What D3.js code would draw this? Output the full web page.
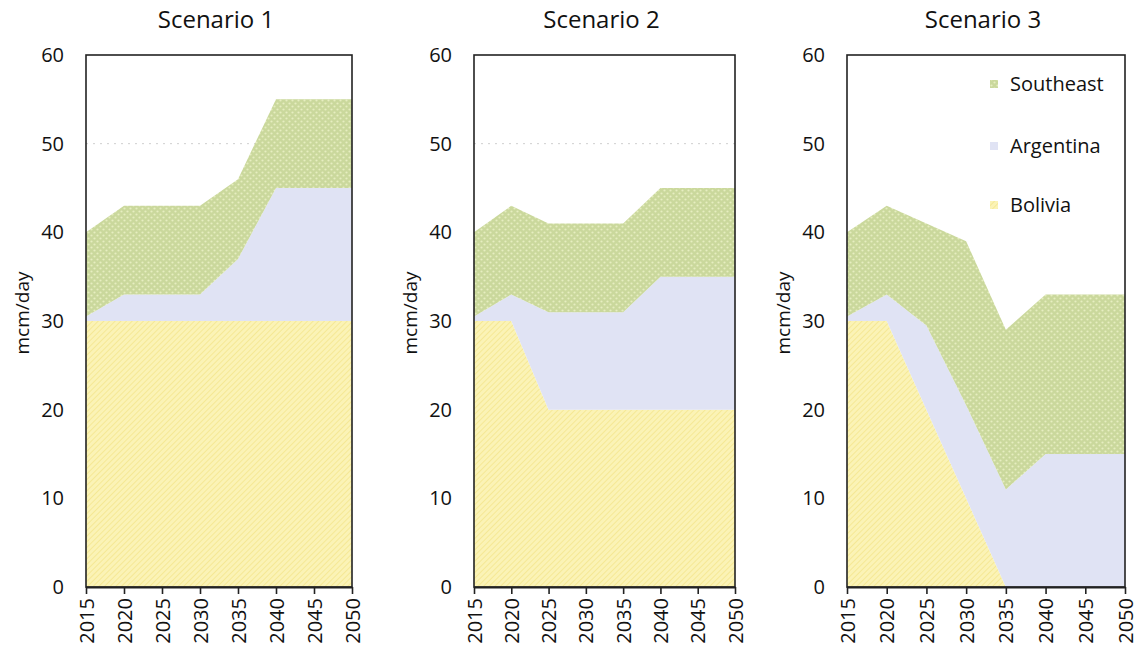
<!DOCTYPE html>
<html>
<head>
<meta charset="utf-8">
<script src="https://cdn.jsdelivr.net/npm/d3@7"></script>
<style>
  body { margin: 0; background: #fff; }
  text { font-family: "Open Sans", sans-serif; fill: #111; }
</style>
</head>
<body>
<div id="chart"></div>
<script>
// data (mcm/day)
var years = [2015, 2020, 2025, 2030, 2035, 2040, 2045, 2050];
var seriesNames = ["Bolivia", "Argentina", "Southeast"];
var scenarioTitles = ["Scenario 1", "Scenario 2", "Scenario 3"];
var yTicks = [0, 10, 20, 30, 40, 50, 60];

var bolivia1   = [30, 30, 30, 30, 30, 30, 30, 30];
var argentina1 = [0.5, 3, 3, 3, 7, 15, 15, 15];
var southeast1 = [9.5, 10, 10, 10, 9, 10, 10, 10];

var bolivia2   = [30, 30, 20, 20, 20, 20, 20, 20];
var argentina2 = [0.5, 3, 11, 11, 11, 15, 15, 15];
var southeast2 = [9.5, 10, 10, 10, 10, 10, 10, 10];

var bolivia3   = [30, 30, 20, 10, 0, 0, 0, 0];
var argentina3 = [0.5, 3, 9.5, 10.5, 11, 15, 15, 15];
var southeast3 = [9.5, 10, 11.5, 18.5, 18, 18, 18, 18];

var scenarios = [
  [bolivia1, argentina1, southeast1],
  [bolivia2, argentina2, southeast2],
  [bolivia3, argentina3, southeast3]
];

// layout
var width = 1137, height = 657;
var plotLefts = [86, 474, 847],
    plotWidths = [266, 261, 278],
    plotTop = 55,
    plotBottom = 587;

var svg = d3.select("#chart")
  .append("svg")
    .attr("width", width)
    .attr("height", height);

// fill patterns
var defs = svg.append("defs");

var pYellow = defs.append("pattern")
    .attr("id", "fill-Bolivia")
    .attr("patternUnits", "userSpaceOnUse")
    .attr("width", 4).attr("height", 4)
    .attr("patternTransform", "rotate(45)");
pYellow.append("rect").attr("width", 4).attr("height", 4).attr("fill", "#fbf3b6");
pYellow.append("line").attr("x1", 0).attr("y1", 0).attr("x2", 0).attr("y2", 4)
    .attr("stroke", "#f2e17e").attr("stroke-width", 1.2);

var pBlue = defs.append("pattern")
    .attr("id", "fill-Argentina")
    .attr("patternUnits", "userSpaceOnUse")
    .attr("width", 4).attr("height", 4);
pBlue.append("rect").attr("width", 4).attr("height", 4).attr("fill", "#e0e3f4");

var pGreen = defs.append("pattern")
    .attr("id", "fill-Southeast")
    .attr("patternUnits", "userSpaceOnUse")
    .attr("width", 6).attr("height", 6);
pGreen.append("rect").attr("width", 6).attr("height", 6).attr("fill", "#cad89c");
pGreen.append("circle").attr("cx", 1.5).attr("cy", 1.5).attr("r", 1.1).attr("fill", "#e6eec0");
pGreen.append("circle").attr("cx", 4.5).attr("cy", 4.5).attr("r", 1.1).attr("fill", "#e6eec0");

scenarios.forEach(function(series, i) {
  var left = plotLefts[i], w = plotWidths[i];

  var x = d3.scaleLinear().domain([2015, 2050]).range([left, left + w]);
  var y = d3.scaleLinear().domain([0, 60]).range([plotBottom, plotTop]);

  var rows = years.map(function(yr, j) {
    var r = {year: yr};
    seriesNames.forEach(function(n, k) { r[n] = series[k][j]; });
    return r;
  });
  var stacked = d3.stack().keys(seriesNames)(rows);

  var g = svg.append("g");

  // faint gridline at 50
  g.append("line")
    .attr("x1", left).attr("x2", left + w)
    .attr("y1", y(50)).attr("y2", y(50))
    .attr("stroke", i === 2 ? "none" : "#cfcfcf")
    .attr("stroke-dasharray", "2,5");

  var area = d3.area()
    .x(function(d) { return x(d.data.year); })
    .y0(function(d) { return y(d[0]); })
    .y1(function(d) { return y(d[1]); });

  g.selectAll("path.layer")
    .data(stacked)
    .enter().append("path")
      .attr("d", area)
      .attr("fill", function(d) { return "url(#fill-" + d.key + ")"; });

  // frame
  g.append("rect")
    .attr("x", left).attr("y", plotTop)
    .attr("width", w).attr("height", plotBottom - plotTop)
    .attr("fill", "none")
    .attr("stroke", "#222")
    .attr("stroke-width", 1.6);

  // x axis
  var xAxis = g.append("g")
    .attr("transform", "translate(0," + plotBottom + ")")
    .call(d3.axisBottom(x).tickValues(years).tickFormat(d3.format("d")).tickSize(7).tickSizeOuter(0));
  xAxis.select(".domain").attr("stroke", "#222").attr("stroke-width", 2);
  xAxis.selectAll(".tick line").attr("stroke", "#222").attr("stroke-width", 1.6);
  xAxis.selectAll("text")
    .attr("transform", "rotate(-90)")
    .attr("x", -11).attr("y", 0).attr("dy", "0.35em")
    .style("text-anchor", "end")
    .style("font-size", "20px")
    .style("font-weight", 500)
    .style("font-family", "Open Sans")
    .style("fill", "#111");

  // y axis (labels only)
  var yAxis = g.append("g")
    .attr("transform", "translate(" + left + ",0)")
    .call(d3.axisLeft(y).tickValues(yTicks).tickSize(0).tickPadding(22));
  yAxis.select(".domain").remove();
  yAxis.selectAll("text")
    .style("font-size", "20px")
    .style("font-weight", 500)
    .style("font-family", "Open Sans")
    .style("fill", "#111");

  // y title
  g.append("text")
    .attr("transform", "translate(" + (left - 64) + "," + 313 + ")rotate(-90)")
    .attr("text-anchor", "middle")
    .attr("dy", "0.35em")
    .style("font-size", "19px")
    .text("mcm/day");

  // title
  g.append("text")
    .attr("x", left + w / 2 - 3)
    .attr("y", 28)
    .attr("text-anchor", "middle")
    .style("font-size", "24px")
    .text(scenarioTitles[i]);

  // legend in last panel
  if (i === 2) {
    var legendOrder = ["Southeast", "Argentina", "Bolivia"];
    var legendY = [84, 146, 205];
    var leg = g.selectAll("g.legend")
      .data(legendOrder)
      .enter().append("g")
        .attr("transform", function(d, k) { return "translate(990," + legendY[k] + ")"; });
    leg.append("rect")
      .attr("x", 0).attr("y", -4)
      .attr("width", 8).attr("height", 8)
      .attr("fill", function(d) { return "url(#fill-" + d + ")"; });
    leg.append("text")
      .attr("x", 20).attr("dy", "0.35em")
      .style("font-size", "20px")
      .text(function(d) { return d; });
  }
});
</script>
</body>
</html>
